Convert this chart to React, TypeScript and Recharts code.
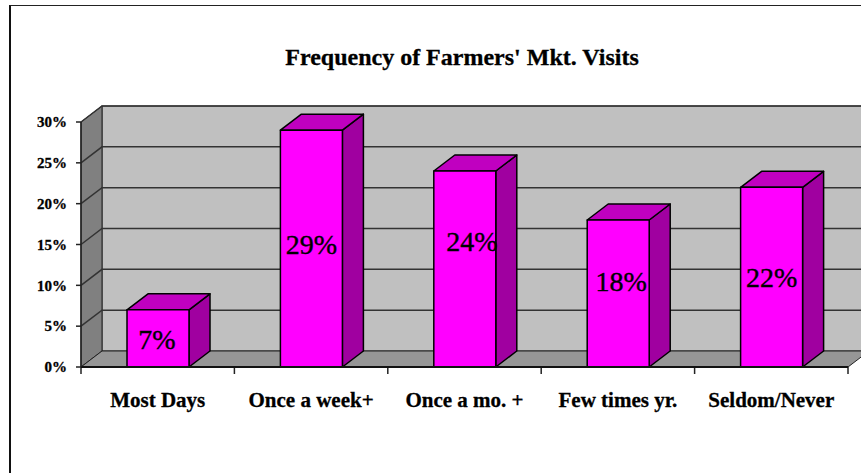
import React from "react";
import { BarChart, Bar, XAxis, YAxis, ReferenceArea, LabelList } from "recharts";

const categories = ["Most Days", "Once a week+", "Once a mo. +", "Few times yr.", "Seldom/Never"];
const percentages = [7, 29, 24, 18, 22];
const yTicks = [0, 5, 10, 15, 20, 25, 30];
const data = categories.map((name, i) => ({ name, value: percentages[i] }));

const DX = 21;
const DY = -16;
const FONT = "'Liberation Serif', 'Times New Roman', serif";
const yMax = yTicks[yTicks.length - 1];
// The source's data labels were dragged by hand away from the bar centres.
const labelNudges: [number, number][] = [[-1, 1], [0, -4], [7, -28], [3, -12], [0, 0]];

function Room(props: any) {
  const { x, y, width, height } = props;
  const bottom = y + height;
  const right = x + width;
  const at = (t: number) => bottom - (height * t) / yMax;
  return (
    <g>
      <rect x={x + DX} y={y + DY} width={width + DX} height={height} fill="#c0c0c0" stroke="#222" strokeWidth={1} />
      <polygon
        points={`${x},${y} ${x + DX},${y + DY} ${x + DX},${bottom + DY} ${x},${bottom}`}
        fill="#808080"
        stroke="#222"
        strokeWidth={1}
      />
      <polygon
        points={`${x},${bottom} ${x + DX},${bottom + DY} ${right + DX},${bottom + DY} ${right},${bottom}`}
        fill="#969696"
        stroke="#222"
        strokeWidth={1}
      />
      {yTicks.slice(1).map((t) => (
        <g key={t} fill="none" stroke="#333" strokeWidth={1.5}>
          <polyline points={`${x},${at(t)} ${x + DX},${at(t) + DY} ${right + DX},${at(t) + DY}`} />
        </g>
      ))}
      {categories.map((_, i) => i).concat(categories.length).map((i) => {
        const tx = x + (width * i) / categories.length;
        return <line key={i} x1={tx} x2={tx} y1={bottom} y2={bottom + 7} stroke="#222" strokeWidth={1.5} />;
      })}
    </g>
  );
}

function Bar3D(props: any) {
  const { x, y, width, height } = props;
  const r = x + width;
  const b = y + height;
  const common = { stroke: "#000", strokeWidth: 1.5, strokeLinejoin: "round" as const };
  return (
    <g>
      <polygon points={`${r},${y} ${r + DX},${y + DY} ${r + DX},${b + DY} ${r},${b}`} fill="#a000a0" {...common} />
      <polygon points={`${x},${y} ${x + DX},${y + DY} ${r + DX},${y + DY} ${r},${y}`} fill="#c000c0" {...common} />
      <rect x={x} y={y} width={width} height={height} fill="#ff00ff" {...common} />
    </g>
  );
}

function ValueLabel(props: any) {
  const { x, y, width, height, value, index } = props;
  const [nx, ny] = labelNudges[index] ?? [0, 0];
  return (
    <text
      x={x + width / 2 + nx}
      y={y + height / 2 + ny}
      textAnchor="middle"
      dominantBaseline="central"
      fontFamily={FONT}
      fontSize={28}
      fill="#000"
      stroke="#000"
      strokeWidth={0.4}
    >
      {`${value}%`}
    </text>
  );
}

export default function App() {
  return (
    <div style={{ position: "fixed", left: 0, top: 0, width: 861, height: 473, overflow: "hidden", background: "#fff" }}>
      <div style={{ position: "absolute", left: 9, top: 5, width: 860, height: 480, borderLeft: "2px solid #111", borderTop: "1px solid #222" }} />
      <div
        style={{
          position: "absolute",
          left: 262,
          top: 43,
          width: 400,
          textAlign: "center",
          whiteSpace: "nowrap",
          fontFamily: FONT,
          fontWeight: 700,
          fontSize: 24,
          lineHeight: "28px",
          color: "#000",
          WebkitTextStroke: "0.3px #000",
        }}
      >
        Frequency of Farmers' Mkt. Visits
      </div>
      <div style={{ position: "absolute", left: 0, top: 0 }}>
        <BarChart width={861} height={473} data={data} margin={{ top: 122, right: 13, bottom: 0, left: 0 }} style={{ overflow: "hidden" }}>
          <ReferenceArea y1={0} y2={yMax} shape={Room} ifOverflow="visible" />
          <XAxis
            dataKey="name"
            height={106}
            interval={0}
            tickLine={false}
            axisLine={{ stroke: "#111", strokeWidth: 2 }}
            tickMargin={19}
            tick={{ fontFamily: FONT, fontWeight: 700, fontSize: 21, fill: "#000", stroke: "#000", strokeWidth: 0.3 }}
          />
          <YAxis
            width={81}
            domain={[0, yMax]}
            ticks={yTicks}
            interval={0}
            tickSize={5}
            tickMargin={9}
            tickFormatter={(v: number) => `${v}%`}
            axisLine={{ stroke: "#222", strokeWidth: 1.5 }}
            tickLine={{ stroke: "#222", strokeWidth: 1.5 }}
            tick={{ fontFamily: FONT, fontWeight: 700, fontSize: 15, fill: "#000", stroke: "#000", strokeWidth: 0.3 }}
          />
          <Bar dataKey="value" barSize={62} shape={Bar3D} isAnimationActive={false}>
            <LabelList dataKey="value" content={ValueLabel} />
          </Bar>
        </BarChart>
      </div>
    </div>
  );
}
